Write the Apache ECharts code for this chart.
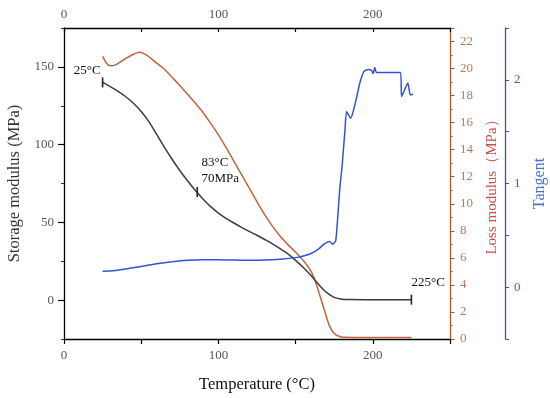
<!DOCTYPE html>
<html>
<head>
<meta charset="utf-8">
<script src="https://cdn.jsdelivr.net/npm/echarts@6/dist/echarts.min.js"></script>
<style>html,body{margin:0;padding:0;background:#fff}#c{width:550px;height:398px}</style>
</head>
<body>
<div id="c"></div>
<script>
// ---- data ----
const storageT = [25,30,35,40,45,50,55,60,65,70,75,80,85,90,95,100,105,110,115,120,125,130,135,140,145,150,155,160,165,170,175,180,185,195,205,215,225];
const storageMPa = [140,137.3,134.2,130.8,126.6,121.3,114.8,106.6,98.4,90.6,83.4,76.8,70.6,65,60.1,56,52.6,49.6,46.8,44.2,41.7,39,36.2,33.1,29.7,25.6,21,15.8,10,5,1.8,0.6,0.35,0.3,0.3,0.3,0.3];

const lossT = [25,27.5,30,33,38,44,49,54,60,65,70,75,80,85,90,95,100,105,110,115,120,125,130,135,140,145,150,155,160,163,166,169,172,175,178,181,190,200,210,225];
const lossMPa = [20.9,20.4,20.2,20.25,20.6,21.0,21.2,20.95,20.4,19.95,19.35,18.75,18.1,17.45,16.75,15.95,15.1,14.15,13.15,12.15,11.15,10.15,9.2,8.35,7.6,6.98,6.42,5.8,5.0,4.2,3.1,2.0,0.95,0.4,0.2,0.13,0.12,0.12,0.12,0.12];

const tanT = [25,30,40,50,60,70,80,90,100,110,120,130,140,150,155,160,165,168,170,172,174,176,177.5,178.6,180,182,183,185.6,187.3,189.5,191.6,194.2,197,199.2,200.2,201.3,202.4,210,218,218.6,220.5,222.7,224.3,226];
const tanDelta = [0.154,0.155,0.175,0.2,0.225,0.245,0.26,0.265,0.265,0.262,0.26,0.262,0.27,0.285,0.30,0.325,0.37,0.41,0.43,0.44,0.415,0.45,0.72,0.95,1.15,1.52,1.695,1.63,1.695,1.83,1.97,2.08,2.10,2.09,2.06,2.12,2.07,2.07,2.07,1.84,1.9,1.97,1.855,1.86];

const xTickLabels = [0, 100, 200];
const storageTickLabels = [0, 50, 100, 150];
const tanTickLabels = [0, 1, 2];

const notes = [
  {T: 25, S: 140, text: '25°C', pos: [-28, -15]},
  {T: 86.3, S: 69.5, text: '83°C\n70MPa', pos: [5, -33]},
  {T: 225, S: 0.3, text: '225°C', pos: [1, -20]}
];

const zip = (a, b) => a.map((v, i) => [v, b[i]]);
const FONT = '"Liberation Serif", "Times New Roman", serif';

const chart = echarts.init(document.getElementById('c'), null, {renderer: 'canvas'});

const lossColor = '#c0653f';
const tanColor = '#2f55d4';

chart.setOption({
  animation: false,
  textStyle: {fontFamily: FONT},
  grid: {left: 64, right: 100, top: 28, bottom: 59, containLabel: false, outerBoundsMode: 'none'},
  xAxis: [
    {
      type: 'value', position: 'bottom', min: 0, max: 250, interval: 50,
      axisLine: {onZero: false, lineStyle: {color: '#000', width: 1.3}},
      axisTick: {show: true, inside: false, length: 5, lineStyle: {color: '#000', width: 1.2}},
      axisLabel: {color: '#555', fontSize: 13, fontFamily: FONT, margin: 10,
        formatter: v => xTickLabels.includes(v) ? String(v) : ''},
      splitLine: {show: false},
      name: 'Temperature (°C)', nameLocation: 'middle', nameGap: 37,
      nameTextStyle: {color: '#111', fontSize: 16.5, fontFamily: FONT}
    },
    {
      type: 'value', position: 'top', min: 0, max: 250, interval: 50,
      axisLine: {onZero: false, lineStyle: {color: '#000', width: 1.3}},
      axisTick: {show: true, inside: true, length: 4, lineStyle: {color: '#000', width: 1.2}},
      axisLabel: {color: '#555', fontSize: 13, fontFamily: FONT, margin: 7,
        formatter: v => xTickLabels.includes(v) ? String(v) : ''},
      splitLine: {show: false}
    }
  ],
  yAxis: [
    {
      type: 'value', position: 'left', min: -25, max: 175, interval: 25,
      axisLine: {show: true, onZero: false, lineStyle: {color: '#000', width: 1.3}},
      axisTick: {show: true, length: 3, lineStyle: {color: '#333', width: 1}},
      axisLabel: {color: '#555', fontSize: 13, fontFamily: FONT, margin: 10,
        formatter: v => storageTickLabels.includes(v) ? String(v) : ''},
      splitLine: {show: false},
      name: 'Storage modulus (MPa)', nameLocation: 'middle', nameGap: 41,
      nameTextStyle: {color: '#333', fontSize: 16.5, fontFamily: FONT}
    },
    {
      type: 'value', position: 'right', min: 0, max: 23, interval: 2,
      axisLine: {show: true, onZero: false, lineStyle: {color: '#a85a38', width: 1.3}},
      axisTick: {show: true, length: 4.5, lineStyle: {color: '#a85a38', width: 1}},
      minorTick: {show: true, splitNumber: 2, length: 2.5, lineStyle: {color: '#a85a38', width: 1}},
      axisLabel: {color: '#b97a5e', fontSize: 13, fontFamily: FONT, margin: 10,
        formatter: v => (v % 2 === 0) ? String(v) : ''},
      splitLine: {show: false}, minorSplitLine: {show: false},
      name: 'Loss modulus（MPa）', nameLocation: 'middle', nameGap: 35,
      nameTextStyle: {color: '#c8504a', fontSize: 15, fontFamily: FONT}
    },
    {
      type: 'value', position: 'right', offset: 55, min: -0.5, max: 2.5, interval: 0.5,
      axisLine: {show: true, onZero: false, lineStyle: {color: '#3355cc', width: 1.3}},
      axisTick: {show: true, length: 4, lineStyle: {color: '#3355cc', width: 1}},
      axisLabel: {color: '#4060c8', fontSize: 13, fontFamily: FONT, margin: 9,
        formatter: v => tanTickLabels.includes(v) ? String(v) : ''},
      splitLine: {show: false},
      name: 'Tangent', nameLocation: 'middle', nameGap: 26,
      nameTextStyle: {color: '#4a6fd6', fontSize: 16, fontFamily: FONT}
    },
    {
      type: 'value', position: 'left', min: -25, max: 175,
      axisLine: {show: false, onZero: false},
      axisTick: {show: true, length: 6, customValues: storageTickLabels, lineStyle: {color: '#000', width: 1.2}},
      axisLabel: {show: false},
      splitLine: {show: false}
    }
  ],
  series: [
    {
      name: 'Storage', type: 'line', xAxisIndex: 0, yAxisIndex: 0,
      data: zip(storageT, storageMPa), showSymbol: false, smooth: 0.3,
      lineStyle: {color: '#3d3d3d', width: 1.5}, itemStyle: {color: '#3d3d3d'}, z: 3,
      markPoint: {
        symbol: 'rect', symbolSize: [1.6, 10], silent: true,
        itemStyle: {color: '#222'},
        label: {show: true, color: '#111', fontSize: 13, fontFamily: FONT, lineHeight: 16.5},
        data: notes.map(n => ({coord: [n.T, n.S], value: n.text,
          label: {formatter: n.text, position: n.pos, align: 'left', verticalAlign: 'top'}}))
      }
    },
    {
      name: 'Loss', type: 'line', xAxisIndex: 0, yAxisIndex: 1,
      data: zip(lossT, lossMPa), showSymbol: false, smooth: 0.3,
      lineStyle: {color: lossColor, width: 1.5}, itemStyle: {color: lossColor}, z: 2
    },
    {
      name: 'Tangent', type: 'line', xAxisIndex: 0, yAxisIndex: 2,
      data: zip(tanT, tanDelta), showSymbol: false, smooth: 0.2,
      lineStyle: {color: tanColor, width: 1.5}, itemStyle: {color: tanColor}, z: 4
    }
  ]
});
</script>
</body>
</html>
